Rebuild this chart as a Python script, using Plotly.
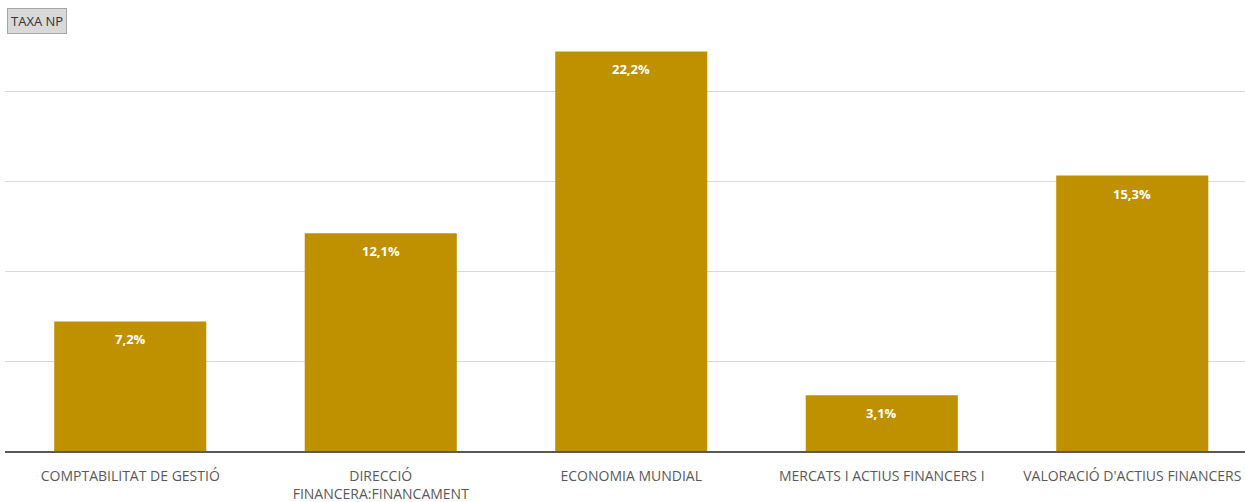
import plotly.graph_objects as go

categories = ["COMPTABILITAT DE GESTIÓ", "DIRECCIÓ<br>FINANCERA:FINANCAMENT", "ECONOMIA MUNDIAL",
              "MERCATS I ACTIUS FINANCERS I", "VALORACIÓ D'ACTIUS FINANCERS"]
values = [7.2, 12.1, 22.2, 3.1, 15.3]
labels = ["7,2%", "12,1%", "22,2%", "3,1%", "15,3%"]

bar_color = "#BF9000"

fig = go.Figure()
fig.add_trace(go.Bar(x=categories, y=values, marker=dict(color=bar_color, line=dict(width=0)),
                     width=0.607, hoverinfo="skip"))

for c, v, l in zip(categories, values, labels):
    fig.add_annotation(x=c, y=v, text=l, showarrow=False, yanchor="middle", yshift=-18,
                       font=dict(family="Open Sans", size=13, color="white", weight="bold"))

fig.add_annotation(xref="paper", yref="paper", x=0.0, y=(451 - 21) / 450, xanchor="left", yanchor="middle",
                   text="TAXA NP", showarrow=False, xshift=2,
                   font=dict(family="Open Sans", size=13, color="#333333"),
                   bgcolor="#d9d9d9", bordercolor="#a6a6a6", borderwidth=1, borderpad=3)

fig.update_layout(
    width=1245, height=502,
    margin=dict(l=5, r=0, t=1, b=51),
    paper_bgcolor="white", plot_bgcolor="white",
    showlegend=False,
    separators=",.",
    font=dict(family="Open Sans", size=13, color="#595959"),
    xaxis=dict(range=[-0.5, 4.45], showgrid=False, showline=True, linecolor="#595959", linewidth=2,
               ticks="", ticklabelstandoff=11, automargin=False,
               tickfont=dict(family="Open Sans", size=14, color="#595959"), fixedrange=True),
    yaxis=dict(range=[0, 25], tickvals=[0, 5, 10, 15, 20], showticklabels=False, showgrid=True,
               automargin=False,
               gridcolor="#d9d9d9", gridwidth=1, zeroline=False, showline=False, fixedrange=True),
)

fig.write_html("out.html", config={"displayModeBar": False},
               post_script="document.body.style.margin='0';document.body.style.overflow='hidden';")
